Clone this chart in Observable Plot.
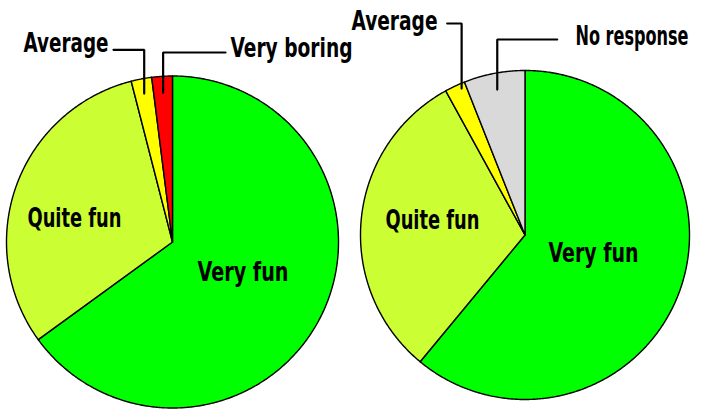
<!DOCTYPE html>
<html>
<head>
<meta charset="utf-8">
<script src="https://cdn.jsdelivr.net/npm/d3@7"></script>
<script src="https://cdn.jsdelivr.net/npm/@observablehq/plot@0.6"></script>
<style>
  html, body { margin: 0; padding: 0; background: #fff; }
  #chart { width: 702px; height: 409px; }
  #chart svg text { font-stretch: condensed; }
</style>
</head>
<body>
<div id="chart"></div>
<script>
// ---- Data ----
const categories = ["Very fun", "Quite fun", "Average", "Very boring", "No response"];
const categoryColors = ["#00ff00", "#ccff33", "#ffff00", "#ff0000", "#d9d9d9"];

const leftLabels = ["Very fun", "Quite fun", "Average", "Very boring"];
const leftValues = [65, 31, 2, 2];

const rightLabels = ["Very fun", "Quite fun", "Average", "No response"];
const rightValues = [61, 31, 2, 6];

// ---- Layout ----
const W = 702, H = 409;
const FONT = "DejaVu Sans, Liberation Sans, sans-serif";
const FS = 27;
const pies = [
  {labels: leftLabels, values: leftValues, cx: 172, cy: 241.5, r: 166,
   inner: {"Quite fun": [74, 218, 94], "Very fun": [242.5, 272, 91]},
   callouts: {
     "Average": {tx: 108, ty: 42.5, w: 85, anchor: "end", lx: 113, ly: 49.3, t: 0.5, rf: 0.91},
     "Very boring": {tx: 230, ty: 47.5, w: 122, anchor: "start", lx: 225, ly: 52, t: 0.5, rf: 0.9}
   }},
  {labels: rightLabels, values: rightValues, cx: 524.5, cy: 234.5, r: 164.5,
   inner: {"Quite fun": [432, 219.5, 94], "Very fun": [593, 253, 90]},
   callouts: {
     "Average": {tx: 437, ty: 21, w: 86, anchor: "end", lx: 446.7, ly: 23, t: 0.75, rf: 0.97},
     "No response": {tx: 688, ty: 35.5, w: 113, anchor: "end", lx: 556.7, ly: 39, t: 0.5, rf: 0.9}
   }}
];

// ---- Build geometry from values ----
const slicePts = [];
const texts = [];
const leaders = [];
pies.forEach((p, pi) => {
  const arcs = d3.pie().sort(null).startAngle(0).endAngle(2 * Math.PI)(p.values);
  arcs.forEach((a, i) => {
    const cat = p.labels[i];
    const id = pi + "-" + i;
    const pt = (ang, rr) => ({x: p.cx + rr * Math.sin(ang), y: p.cy - rr * Math.cos(ang)});
    slicePts.push({id, cat, ...pt(0, 0)});
    const n = Math.max(2, Math.ceil((a.endAngle - a.startAngle) / (Math.PI / 360)));
    for (let k = 0; k <= n; k++) {
      const ang = a.startAngle + (a.endAngle - a.startAngle) * k / n;
      slicePts.push({id, cat, ...pt(ang, p.r)});
    }
    slicePts.push({id, cat, ...pt(0, 0)});
    if (p.inner[cat]) {
      texts.push({text: cat, x: p.inner[cat][0], y: p.inner[cat][1], w: p.inner[cat][2], anchor: "middle"});
    }
    const c = p.callouts[cat];
    if (c) {
      texts.push({text: cat, x: c.tx, y: c.ty, w: c.w, anchor: c.anchor});
      const ang = a.startAngle + (a.endAngle - a.startAngle) * c.t;
      const tgt = pt(ang, p.r * c.rf);
      const lid = "L" + id;
      leaders.push({id: lid, x: c.lx, y: c.ly});
      leaders.push({id: lid, x: tgt.x, y: c.ly});
      leaders.push({id: lid, x: tgt.x, y: tgt.y});
    }
  });
});

const anchors = ["middle", "start", "end"];
const textOrder = anchors.flatMap(an => texts.filter(d => d.anchor === an));

const chart = Plot.plot({
  width: W,
  height: H,
  margin: 0,
  x: {domain: [0, W], range: [0, W], axis: null},
  y: {domain: [0, H], range: [0, H], axis: null},
  color: {domain: categories, range: categoryColors},
  style: {background: "#fff"},
  marks: [
    Plot.line(slicePts, {x: "x", y: "y", z: "id", fill: "cat", stroke: "#000", strokeWidth: 1.4, strokeLinejoin: "round", curve: "linear"}),
    Plot.line(leaders, {x: "x", y: "y", z: "id", stroke: "#000", strokeWidth: 2.2, curve: "linear", strokeLinejoin: "miter"}),
    ...anchors.map(an => Plot.text(texts.filter(d => d.anchor === an), {
      x: "x", y: "y", text: "text", textAnchor: an, lineAnchor: "middle",
      fontSize: FS, fontWeight: "bold", fontFamily: FONT, fill: "#000"
    }))
  ]
});
document.getElementById("chart").appendChild(chart);

// fit each label to the width it has in the reference
const textEls = chart.querySelectorAll("g[aria-label='text'] text");
textEls.forEach((el, i) => {
  const d = textOrder[i];
  if (d && d.w) {
    el.setAttribute("textLength", d.w);
    el.setAttribute("lengthAdjust", "spacingAndGlyphs");
  }
});
</script>
</body>
</html>
